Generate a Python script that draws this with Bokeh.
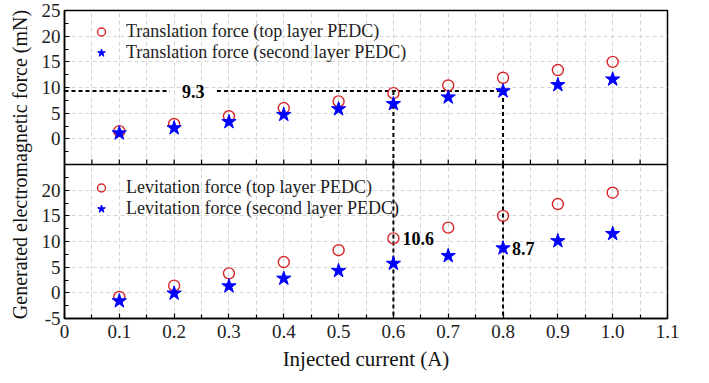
import math
from bokeh.plotting import figure
from bokeh.models import (Range1d, FixedTicker, Legend, LegendItem, Label, Span)
from bokeh.embed import file_html
from bokeh.resources import INLINE

# ---------------- data ----------------
current = [0.1, 0.2, 0.3, 0.4, 0.5, 0.6, 0.7, 0.8, 0.9, 1.0]
trans_top = [1.5, 2.9, 4.4, 6.0, 7.3, 8.9, 10.4, 11.9, 13.4, 15.0]
trans_second = [1.1, 2.1, 3.3, 4.7, 5.8, 6.8, 8.1, 9.3, 10.5, 11.6]
lev_top = [-0.8, 1.4, 3.8, 6.0, 8.3, 10.6, 12.7, 15.0, 17.3, 19.5]
lev_second = [-1.6, -0.1, 1.3, 2.8, 4.3, 5.7, 7.2, 8.7, 10.1, 11.5]

x_ticks = [0, 0.1, 0.2, 0.3, 0.4, 0.5, 0.6, 0.7, 0.8, 0.9, 1.0, 1.1]
x_tick_labels = ["0", "0.1", "0.2", "0.3", "0.4", "0.5", "0.6", "0.7", "0.8", "0.9", "1.0", "1.1"]
bot_ticks = [-5, 0, 5, 10, 15, 20]
top_ticks = [0, 5, 10, 15, 20, 25]
panel_min, panel_max = -5, 25

marked_current = [0.6, 0.8]
trans_level = 9.3          # translation force of second layer at 0.8 A
lev_marks = [(0.6, 10.6), (0.8, 8.7)]

FONT = "Liberation Serif"
RED = "#d8262b"
BLUE = "#0000ff"

span = panel_max - panel_min
main_range = Range1d(panel_min, panel_max + span)   # bottom panel in lower half
top_range = Range1d(panel_min - span, panel_max)    # top panel in upper half

p = figure(width=709, height=383, output_backend="svg", toolbar_location=None,
           x_range=Range1d(0, 1.1), y_range=main_range,
           min_border_left=64, min_border_right=42, min_border_top=10,
           min_border_bottom=65)
p.extra_y_ranges = {"top": top_range}

p.outline_line_color = "black"
p.outline_line_width = 1.5
p.background_fill_color = "white"
p.border_fill_color = "white"

# axes
xa = p.xaxis[0]
xa.ticker = FixedTicker(ticks=x_ticks, minor_ticks=[round(t + 0.05, 3) for t in x_ticks[:-1]])
xa.major_label_overrides = {t: l for t, l in zip(x_ticks, x_tick_labels)}
xa.axis_label = "Injected current (A)"

ya = p.yaxis[0]
top_ticks_main = [t + span for t in top_ticks]
ya.ticker = FixedTicker(
    ticks=bot_ticks + top_ticks_main,
    minor_ticks=[t + 2.5 for t in bot_ticks] + [t - 2.5 for t in top_ticks_main])
overrides = {t: str(t) for t in bot_ticks}
overrides.update({tm: str(t) for t, tm in zip(top_ticks, top_ticks_main)})
ya.major_label_overrides = overrides
ya.axis_label = "Generated electromagnetic force (mN)"

for ax in (xa, ya):
    ax.axis_line_color = "black"
    ax.axis_line_width = 1.5
    ax.major_tick_in = 5
    ax.major_tick_out = 0
    ax.minor_tick_in = 4
    ax.minor_tick_out = 0
    ax.major_tick_line_color = "black"
    ax.minor_tick_line_color = "black"
    ax.major_tick_line_width = 1.2
    ax.minor_tick_line_width = 1.2
    ax.major_label_text_font = FONT
    ax.major_label_text_font_size = "19px"
    ax.major_label_text_color = "#222222"
    ax.axis_label_text_font = FONT
    ax.axis_label_text_font_style = "normal"
    ax.axis_label_text_color = "#111111"
xa.axis_label_text_font_size = "21px"
ya.axis_label_text_font_size = "20px"
xa.major_label_standoff = 6
xa.axis_label_standoff = 6
ya.major_label_standoff = 4
ya.axis_label_standoff = 8

# grids
for g in (p.xgrid[0], p.ygrid[0]):
    g.grid_line_color = "#d4d4d4"
    g.grid_line_dash = "4 3"
    g.grid_line_width = 1
p.xgrid[0].minor_grid_line_color = "#d4d4d4"
p.xgrid[0].minor_grid_line_dash = "4 3"

# separator between the two panels, with inward ticks of the upper panel
p.add_layout(Span(location=panel_max, dimension="width", line_color="black", line_width=1.5))
sep_x = sorted(x_ticks[1:-1] + [round(t + 0.05, 3) for t in x_ticks[:-1]])
p.ray(x=sep_x, y=[panel_max] * len(sep_x), length=5, length_units="screen",
      angle=math.pi / 2, line_color="black", line_width=1.2)

# guide lines (dashed)
dash = dict(line_color="black", line_width=2, line_dash="4 3")
label_x, half_gap = 0.235, 0.043
p.segment(x0=[0, label_x + half_gap], y0=[trans_level] * 2,
          x1=[label_x - half_gap, max(marked_current)], y1=[trans_level] * 2,
          y_range_name="top", **dash)
p.segment(x0=marked_current, y0=[trans_level] * 2, x1=marked_current,
          y1=[panel_min] * 2, y_range_name="top", **dash)
p.segment(x0=marked_current, y0=[panel_max] * 2, x1=marked_current,
          y1=[panel_min] * 2, **dash)

# markers
r_tt = p.scatter(current, trans_top, marker="circle", size=11, fill_color=None,
                 line_color=RED, line_width=1.4, y_range_name="top")
r_ts = p.scatter(current, trans_second, marker="star", size=15, fill_color=BLUE,
                 line_color=BLUE, y_range_name="top")
r_lt = p.scatter(current, lev_top, marker="circle", size=11, fill_color=None,
                 line_color=RED, line_width=1.4)
r_ls = p.scatter(current, lev_second, marker="star", size=15, fill_color=BLUE,
                 line_color=BLUE)

# annotations
p.add_layout(Label(x=label_x, y=trans_level, y_range_name="top", text=f"{trans_level}",
                   text_font=FONT, text_font_size="18px", text_font_style="bold",
                   text_align="center", text_baseline="middle", text_color="black"))
for xv, yv in lev_marks:
    p.add_layout(Label(x=xv, y=yv, text=f"{yv}", x_offset=9,
                       text_font=FONT, text_font_size="18px", text_font_style="bold",
                       text_align="left", text_baseline="middle", text_color="black"))

# legends
def make_legend(items, loc):
    lg = Legend(items=items, location=loc, margin=0, padding=3, spacing=0,
                glyph_width=20, glyph_height=21, label_height=21, label_standoff=15,
                label_text_font=FONT, label_text_font_size="18px",
                label_text_color="#222222",
                border_line_color=None, background_fill_alpha=0)
    return lg

p.add_layout(make_legend([
    LegendItem(label="Translation force (top layer PEDC)", renderers=[r_tt]),
    LegendItem(label="Translation force (second layer PEDC)", renderers=[r_ts]),
], (27, 255)))
p.add_layout(make_legend([
    LegendItem(label="Levitation force (top layer PEDC)", renderers=[r_lt]),
    LegendItem(label="Levitation force (second layer PEDC)", renderers=[r_ls]),
], (27, 99)))

open("out.html", "w").write(file_html(p, INLINE))
